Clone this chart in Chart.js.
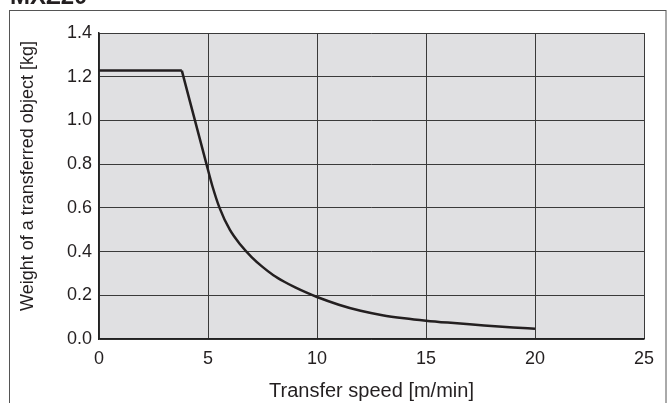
<!DOCTYPE html>
<html>
<head>
<meta charset="utf-8">
<script src="https://cdn.jsdelivr.net/npm/chart.js@4"></script>
<style>
  html, body { margin: 0; padding: 0; background: #fff; }
  #wrap { width: 672px; height: 403px; position: relative; }
</style>
</head>
<body>
<div id="wrap"><canvas id="myChart" width="672" height="403"></canvas></div>
<script>
	// 평탄 구간 (transfer speed, weight)
	const flatSpeed  = [0, 3.8];
	const flatWeight = [1.228, 1.228];

	// 감소 구간
	const dropSpeed  = [3.8, 4.93, 5.2, 5.53, 6.0, 6.5, 7.0, 7.5, 8.0, 8.5, 9.0, 9.5, 10, 11, 12, 13, 14, 15, 16, 17, 18, 19, 20];
	const dropWeight = [1.228, 0.80, 0.70, 0.60, 0.50, 0.43, 0.375, 0.33, 0.292, 0.262, 0.236, 0.213, 0.192, 0.157, 0.129, 0.109, 0.095, 0.084, 0.075, 0.067, 0.060, 0.053, 0.047];

	const xTicks = [0, 5, 10, 15, 20, 25];
	const yTicks = [0.0, 0.2, 0.4, 0.6, 0.8, 1.0, 1.2, 1.4];

	const chartTitle = 'MXZ20';
	const xTitle = 'Transfer speed [m/min]';
	const yTitle = 'Weight of a transferred object [kg]';

	const toPoints = (xs, ys) => xs.map((x, i) => ({ x: x, y: ys[i] }));

	const fontFamily = '"Liberation Sans", Arial, sans-serif';

	// 배경, 외곽 테두리, 상단 제목, y축 제목
	const framePlugin = {
		id: 'frame',
		beforeDraw(chart) {
			const { ctx, chartArea: a } = chart;
			ctx.save();
			ctx.fillStyle = '#e0e0e2';
			ctx.fillRect(a.left, a.top, a.right - a.left, a.bottom - a.top);
			ctx.strokeStyle = '#555';
			ctx.lineWidth = 1;
			ctx.strokeRect(9.5, 10.5, 656.5, 420);
			ctx.fillStyle = '#231f20';
			ctx.font = 'bold 24px ' + fontFamily;
			ctx.textBaseline = 'alphabetic';
			ctx.fillText(chartTitle, 10, 4);
			// y축 제목
			ctx.translate(33, 176);
			ctx.rotate(-Math.PI / 2);
			ctx.font = '18px ' + fontFamily;
			ctx.textAlign = 'center';
			ctx.fillText(yTitle, 0, 0);
			ctx.restore();
		}
	};

	const tickFont = { family: fontFamily, size: 18 };

	const ctx = document.querySelector('#myChart');
	const weightChart = new Chart(ctx, {
		type: 'line',
		data: {
			datasets: [
				{
					data: toPoints(flatSpeed, flatWeight),
					borderColor: '#231f20',
					borderWidth: 2.5,
					pointRadius: 0,
					tension: 0
				},
				{
					data: toPoints(dropSpeed, dropWeight),
					borderColor: '#231f20',
					borderWidth: 2.5,
					pointRadius: 0,
					cubicInterpolationMode: 'monotone'
				}
			]
		},
		options: {
			responsive: false,
			animation: false,
			events: [],
			layout: { padding: { left: 0, top: 33, right: 28, bottom: 0 } },
			plugins: {
				legend: { display: false },
				tooltip: { enabled: false }
			},
			scales: {
				x: {
					type: 'linear',
					min: 0,
					max: 25,
					afterFit: (s) => { s.height = 64; },
					afterBuildTicks: (s) => { s.ticks = xTicks.map(v => ({ value: v })); },
					grid: { color: '#3a3a3a', lineWidth: 1, drawTicks: false },
					border: { color: '#222', width: 1.5 },
					ticks: { color: '#231f20', font: tickFont, padding: 9 },
					title: { display: true, text: xTitle, color: '#231f20', font: { family: fontFamily, size: 20 }, padding: { top: 0, bottom: 0 } }
				},
				y: {
					min: 0,
					max: 1.4,
					afterFit: (s) => { s.width = 99; },
					afterBuildTicks: (s) => { s.ticks = yTicks.map(v => ({ value: v })); },
					grid: { color: '#3a3a3a', lineWidth: 1, drawTicks: false },
					border: { color: '#222', width: 1.5 },
					ticks: { color: '#231f20', font: tickFont, padding: 7, callback: (v) => Number(v).toFixed(1) }
				}
			}
		},
		plugins: [framePlugin]
	});
</script>
</body>
</html>
